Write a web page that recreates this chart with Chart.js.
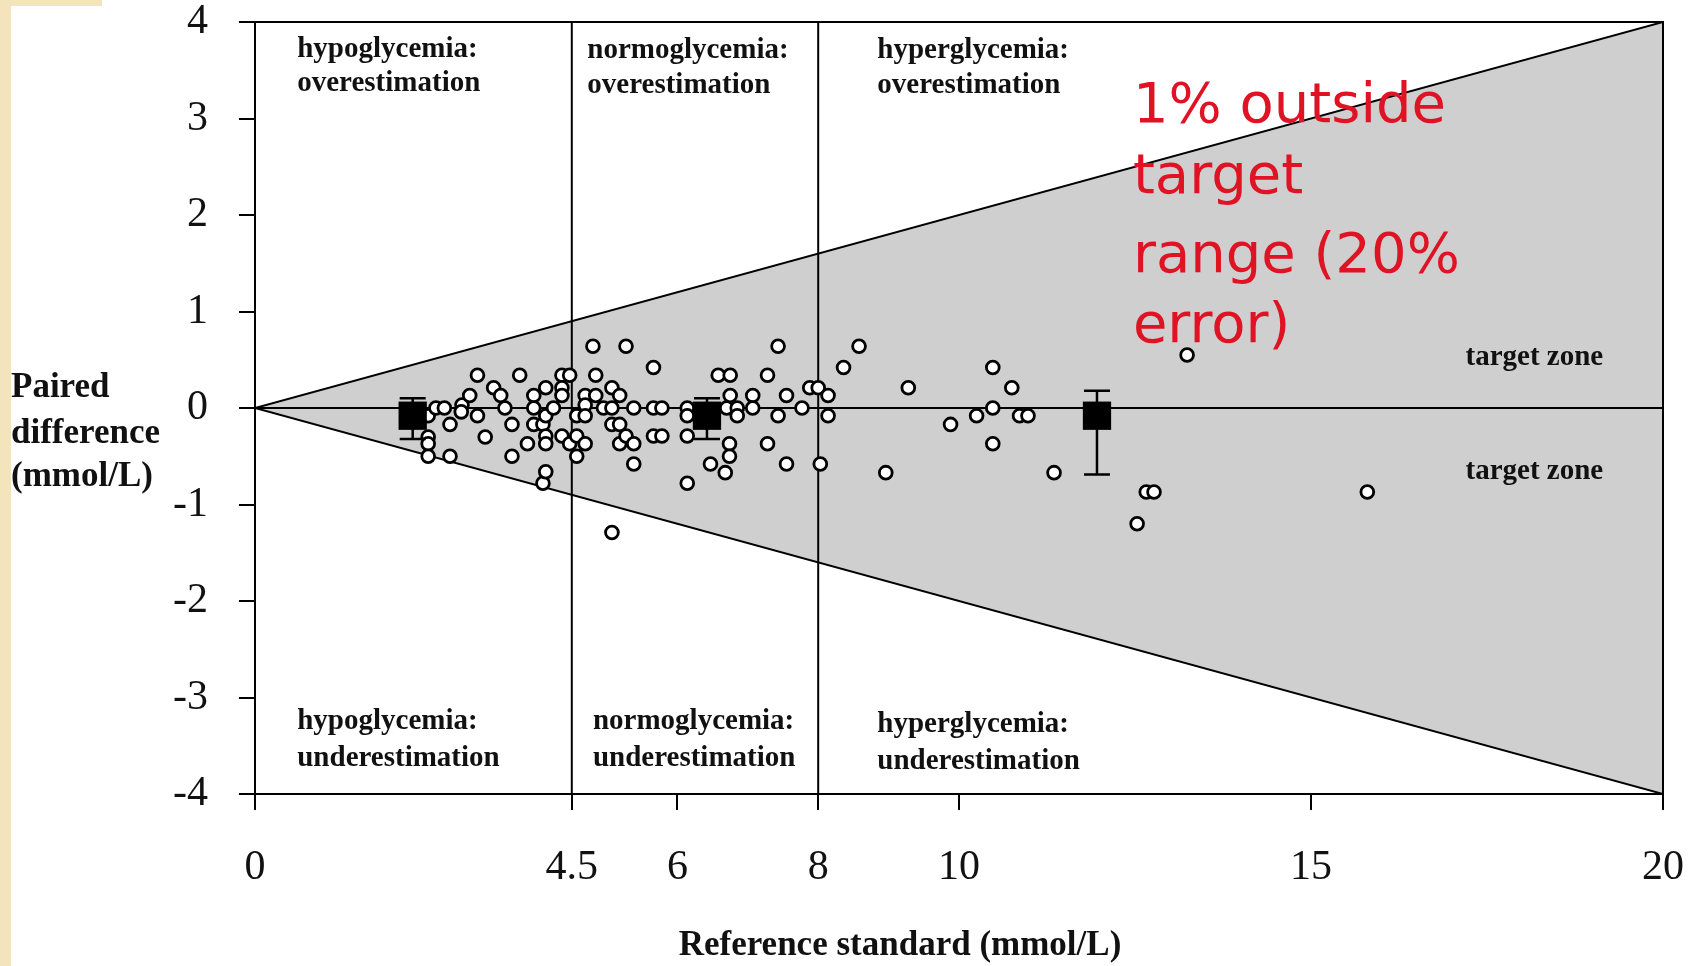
<!DOCTYPE html>
<html>
<head>
<meta charset="utf-8">
<script src="https://cdn.jsdelivr.net/npm/chart.js@4.4.0/dist/chart.umd.min.js"></script>
<style>
  html, body { margin: 0; padding: 0; background: #fff; }
  body { width: 1690px; height: 966px; position: relative; overflow: hidden; }
  .edge { position: absolute; left: 0; top: 0; width: 11px; height: 966px; background: #f4e4bb; }
  .edge-top { position: absolute; left: 0; top: 0; width: 102px; height: 6px; background: #f4e4bb; }
  #wrap { position: absolute; left: 0; top: 0; width: 1690px; height: 966px; }
</style>
</head>
<body>
<div class="edge"></div>
<div class="edge-top"></div>
<div id="wrap"><canvas id="bland" width="1690" height="966"></canvas></div>
<script>
// reference glucose (mmol/L) and paired difference (mmol/L)
const refX = [
  2.46, 2.46, 2.46, 2.46, 2.57, 2.69, 2.77, 2.77, 2.94, 2.93,
  3.05, 3.16, 3.16, 3.27, 3.39, 3.49, 3.55, 3.65, 3.65, 3.76,
  3.87, 3.96, 3.96, 3.96, 4.09, 4.09, 4.13, 4.13, 4.13, 4.13,
  4.13, 4.24, 4.36, 4.36, 4.36, 4.36, 4.47, 4.47, 4.57, 4.57,
  4.57, 4.69, 4.69, 4.69, 4.69, 4.80, 4.84, 4.84, 4.95, 5.07,
  5.07, 5.07, 5.07, 5.18, 5.18, 5.18, 5.27, 5.27, 5.38, 5.38,
  5.38, 5.66, 5.66, 5.66, 5.78, 5.78, 6.14, 6.14, 6.14, 6.14,
  6.47, 6.58, 6.68, 6.70, 6.75, 6.75, 6.74, 6.74, 6.85, 6.85,
  7.07, 7.07, 7.28, 7.28, 7.43, 7.43, 7.55, 7.55, 7.77, 7.88,
  8.00, 8.03, 8.14, 8.14, 8.36, 8.58, 8.96, 9.28, 9.88, 10.25,
  10.48, 10.48, 10.48, 10.75, 10.86, 10.98, 11.35, 12.53, 12.66, 12.77,
  13.24, 15.80
];
const pairedDiff = [
  -0.08, -0.30, -0.37, -0.50, 0.00, 0.00, -0.17, -0.50, 0.03, -0.04,
  0.13, 0.34, -0.08, -0.30, 0.21, 0.13, 0.00, -0.17, -0.50, 0.34,
  -0.37, 0.13, 0.00, -0.17, -0.17, -0.78, 0.21, -0.08, -0.29, -0.37,
  -0.66, 0.00, 0.34, 0.21, 0.13, -0.29, 0.34, -0.37, -0.08, -0.29,
  -0.50, 0.13, 0.03, -0.08, -0.37, 0.64, 0.34, 0.13, 0.00, 0.21,
  0.00, -0.17, -1.29, 0.13, -0.17, -0.37, 0.64, -0.29, 0.00, -0.37,
  -0.58, 0.42, 0.00, -0.29, 0.00, -0.29, 0.00, -0.08, -0.29, -0.78,
  -0.58, 0.34, -0.67, 0.00, 0.34, 0.13, -0.37, -0.50, 0.00, -0.08,
  0.13, 0.00, 0.34, -0.37, 0.64, -0.08, 0.13, -0.58, 0.00, 0.21,
  0.21, -0.58, 0.13, -0.08, 0.42, 0.64, -0.67, 0.21, -0.17, -0.08,
  0.42, 0.00, -0.37, 0.21, -0.08, -0.08, -0.67, -1.20, -0.87, -0.87,
  0.55, -0.87
];

// group means with error bars
const meanX = [2.24, 6.42, 11.96];
const meanDiff = [-0.08, -0.08, -0.08];
const barHigh = [0.10, 0.10, 0.18];
const barLow = [-0.32, -0.32, -0.69];

const xTicks = [0, 4.5, 6, 8, 10, 15, 20];
const yTicks = [4, 3, 2, 1, 0, -1, -2, -3, -4];
const cutoffs = [4.5, 8];
const xMax = 20;
const yLimit = 4;
const errorLimit = 0.2; // 20% target zone

const serif = "'Liberation Serif', 'Times New Roman', serif";

// error bars for the group means
const errorBars = {
  id: 'errorBars',
  afterDatasetsDraw(chart) {
    const { ctx, scales: { x, y } } = chart;
    ctx.save();
    ctx.strokeStyle = '#000';
    ctx.lineWidth = 2.5;
    meanX.forEach((mx, i) => {
      const px = x.getPixelForValue(mx);
      const top = y.getPixelForValue(barHigh[i]);
      const bot = y.getPixelForValue(barLow[i]);
      ctx.beginPath();
      ctx.moveTo(px, top); ctx.lineTo(px, bot);
      ctx.moveTo(px - 13, top); ctx.lineTo(px + 13, top);
      ctx.moveTo(px - 13, bot); ctx.lineTo(px + 13, bot);
      ctx.stroke();
    });
    ctx.restore();
  }
};

// region labels, target zone labels, red note and axis titles
const annotations = {
  id: 'annotations',
  afterDraw(chart) {
    const { ctx, scales: { x, y } } = chart;
    const zoneText = [
      { lines: ['hypoglycemia:', 'overestimation'], x: 0.6, y: [3.72, 3.36] },
      { lines: ['normoglycemia:', 'overestimation'], x: 4.72, y: [3.70, 3.34] },
      { lines: ['hyperglycemia:', 'overestimation'], x: 8.84, y: [3.70, 3.34] },
      { lines: ['hypoglycemia:', 'underestimation'], x: 0.6, y: [-3.25, -3.63] },
      { lines: ['normoglycemia:', 'underestimation'], x: 4.8, y: [-3.25, -3.63] },
      { lines: ['hyperglycemia:', 'underestimation'], x: 8.84, y: [-3.28, -3.66] }
    ];
    ctx.save();
    ctx.fillStyle = '#111';
    ctx.textBaseline = 'middle';
    ctx.textAlign = 'left';
    ctx.font = 'bold 29px ' + serif;
    zoneText.forEach(z => {
      z.lines.forEach((t, k) => ctx.fillText(t, x.getPixelForValue(z.x), y.getPixelForValue(z.y[k])));
    });

    ctx.textAlign = 'right';
    ctx.fillText('target zone', x.getPixelForValue(19.15), y.getPixelForValue(0.52));
    ctx.fillText('target zone', x.getPixelForValue(19.15), y.getPixelForValue(-0.66));

    // red note
    ctx.textAlign = 'left';
    ctx.textBaseline = 'alphabetic';
    ctx.fillStyle = '#e01325';
    ctx.font = "56px 'Comic Sans MS', 'DejaVu Sans', sans-serif";
    const note = ['1% outside', 'target', 'range (20%', 'error)'];
    const noteY = [2.96, 2.23, 1.41, 0.68];
    note.forEach((t, k) => ctx.fillText(t, x.getPixelForValue(12.47), y.getPixelForValue(noteY[k])));

    // axis titles
    ctx.fillStyle = '#111';
    ctx.textBaseline = 'middle';
    ctx.font = 'bold 35px ' + serif;
    ctx.fillText('Paired', 11, 388);
    ctx.fillText('difference', 11, 434);
    ctx.fillText('(mmol/L)', 11, 477);
    ctx.textAlign = 'center';
    ctx.fillText('Reference standard (mmol/L)', 900, 946);
    ctx.restore();
  }
};

const points = refX.map((v, i) => ({ x: v, y: pairedDiff[i] }));
const means = meanX.map((v, i) => ({ x: v, y: meanDiff[i] }));

const lineStyle = { type: 'line', borderColor: '#000', borderWidth: 2, pointRadius: 0, fill: false };

const datasets = [
  {
    label: 'Group mean',
    data: means,
    pointStyle: 'rect',
    pointRadius: 20,
    backgroundColor: '#000',
    borderColor: '#000',
    borderWidth: 0
  },
  {
    label: 'Paired difference',
    data: points,
    pointRadius: 6.4,
    backgroundColor: '#fff',
    borderColor: '#000',
    borderWidth: 2.8
  },
  { ...lineStyle, data: [{ x: 0, y: 0 }, { x: xMax, y: 0 }] },
  ...cutoffs.map(c => ({ ...lineStyle, data: [{ x: c, y: -yLimit }, { x: c, y: yLimit }] })),
  { ...lineStyle, clip: false, data: [{ x: 0, y: yLimit }, { x: xMax, y: yLimit }, { x: xMax, y: -yLimit }] },
  {
    ...lineStyle,
    data: [{ x: 0, y: 0 }, { x: xMax, y: xMax * errorLimit }],
    fill: '+1',
    backgroundColor: '#cfcfcf'
  },
  { ...lineStyle, data: [{ x: 0, y: 0 }, { x: xMax, y: -xMax * errorLimit }] }
];

new Chart(document.getElementById('bland').getContext('2d'), {
  type: 'scatter',
  data: { datasets: datasets },
  options: {
    responsive: false,
    animation: false,
    layout: { padding: { left: 0, top: 22, right: 27, bottom: 0 } },
    plugins: {
      legend: { display: false },
      tooltip: { enabled: false },
      filler: { drawTime: 'beforeDatasetsDraw' }
    },
    scales: {
      x: {
        type: 'linear',
        min: 0,
        max: xMax,
        afterBuildTicks: s => { s.ticks = xTicks.map(v => ({ value: v })); },
        afterFit: s => { s.height = 172; s.paddingLeft = 0; s.paddingRight = 0; },
        grid: { drawOnChartArea: false, tickLength: 16, color: '#000', lineWidth: 2 },
        border: { color: '#000', width: 2 },
        ticks: { color: '#111', padding: 33, maxRotation: 0, autoSkip: false, font: { family: serif, size: 42 } }
      },
      y: {
        type: 'linear',
        min: -yLimit,
        max: yLimit,
        afterBuildTicks: s => { s.ticks = yTicks.map(v => ({ value: v })); },
        afterFit: s => { s.width = 255; s.paddingTop = 0; s.paddingBottom = 0; },
        grid: { drawOnChartArea: false, tickLength: 16, color: '#000', lineWidth: 2 },
        border: { color: '#000', width: 2 },
        ticks: { color: '#111', padding: 31, font: { family: serif, size: 42 } }
      }
    }
  },
  plugins: [errorBars, annotations]
});
</script>
</body>
</html>
